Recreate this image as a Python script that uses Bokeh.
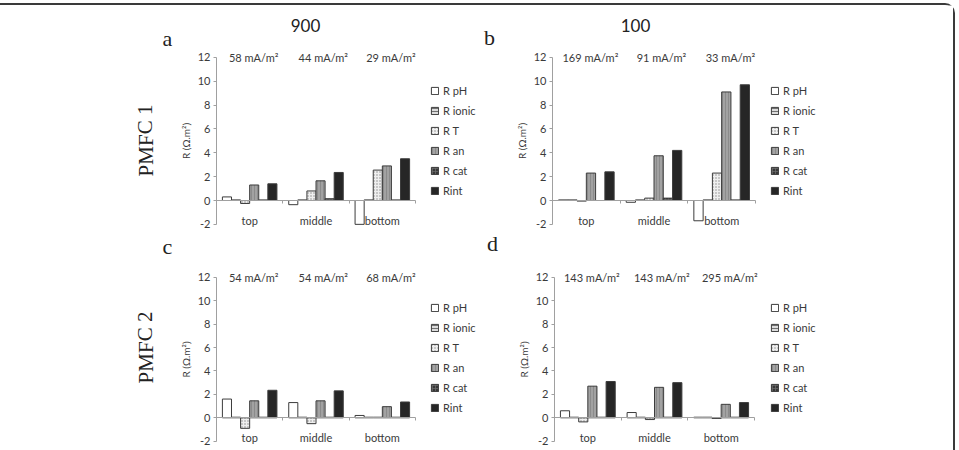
from bokeh.plotting import figure
from bokeh.models import (Range1d, Label, Legend, LegendItem, ColumnDataSource, FixedTicker)
from bokeh.transform import dodge
from bokeh.layouts import column, row
from bokeh.embed import file_html
from bokeh.resources import INLINE

# ---- data -------------------------------------------------------------
positions = ["top", "middle", "bottom"]
series = ["R pH", "R ionic", "R T", "R an", "R cat", "Rint"]
y_ticks = [-2, 0, 2, 4, 6, 8, 10, 12]

# PMFC 1, 900
a_pH = [0.3, -0.35, -2.0]
a_ionic = [0.05, 0.05, 0.05]
a_T = [-0.25, 0.8, 2.55]
a_an = [1.3, 1.65, 2.9]
a_cat = [0.05, 0.15, 0.05]
a_int = [1.4, 2.35, 3.5]
a_current = ["58 mA/m²", "44 mA/m²", "29 mA/m²"]

# PMFC 1, 100
b_pH = [0.05, -0.15, -1.7]
b_ionic = [0.05, 0.05, 0.05]
b_T = [-0.05, 0.2, 2.3]
b_an = [2.3, 3.75, 9.1]
b_cat = [0.0, 0.2, 0.05]
b_int = [2.4, 4.2, 9.7]
b_current = ["169 mA/m²", "91 mA/m²", "33 mA/m²"]

# PMFC 2, 900
c_pH = [1.6, 1.3, 0.2]
c_ionic = [0.05, 0.05, 0.05]
c_T = [-0.9, -0.5, 0.05]
c_an = [1.45, 1.45, 0.95]
c_cat = [0.05, 0.05, 0.05]
c_int = [2.35, 2.3, 1.35]
c_current = ["54 mA/m²", "54 mA/m²", "68 mA/m²"]

# PMFC 2, 100
d_pH = [0.6, 0.45, 0.05]
d_ionic = [0.05, 0.05, 0.05]
d_T = [-0.35, -0.15, -0.05]
d_an = [2.7, 2.6, 1.15]
d_cat = [0.05, 0.05, 0.05]
d_int = [3.1, 3.0, 1.3]
d_current = ["143 mA/m²", "143 mA/m²", "295 mA/m²"]

# ---- styling ------------------------------------------------------------
SANS = "Lato"
SERIF = "Liberation Serif"
TXT = "#3a3a3a"
EDGE = "#3c3c3c"
AXIS = "#a0a0a0"
ROW_H = 20  # legend row pitch

bar_styles = {
    "R pH": dict(fill_color="white"),
    "R ionic": dict(fill_color="#dcdcdc", hatch_pattern="horizontal_line",
                    hatch_color="#555555", hatch_scale=3, hatch_weight=0.8),
    "R T": dict(fill_color="#efefef", hatch_pattern="dot",
                hatch_color="#8c8c8c", hatch_scale=3, hatch_weight=0.8),
    "R an": dict(fill_color="#a2a2a2", hatch_pattern="vertical_line",
                 hatch_color="#858585", hatch_scale=3, hatch_weight=0.8),
    "R cat": dict(fill_color="#383838", hatch_pattern="cross",
                  hatch_color="#707070", hatch_scale=3, hatch_weight=0.7),
    "Rint": dict(fill_color="#262626"),
}
BAR_W = 0.137
current_x = [0.56, 1.61, 2.63]
centers = [i + 0.5 for i in range(len(positions))]
bounds_x = [float(i) for i in range(len(positions) + 1)]


def panel(values, currents, box, origin, plot_w, plot_h, legend_at):
    """box = (x0, y0, w, h) of the canvas on the page; origin = page pixel of
    (x=0, y=0); plot_w / plot_h = page pixels spanned by the 3 groups / by -2..12;
    legend_at = page pixel of the legend's top-left corner."""
    x0, y0, w, h = box
    ox, oy = origin
    ux = plot_w / len(positions)
    uy = plot_h / (y_ticks[-1] - y_ticks[0])
    xr = Range1d(-(ox - x0) / ux, (x0 + w - ox) / ux)
    yr = Range1d(-(y0 + h - oy) / uy, (oy - y0) / uy)
    p = figure(x_range=xr, y_range=yr, width=w, height=h,
               min_border=0, output_backend="svg", toolbar_location=None,
               outline_line_color=None, background_fill_color="white",
               border_fill_color="white")
    p.xgrid.visible = False
    p.ygrid.visible = False

    items = []
    n = len(series)
    for i, (name, vals) in enumerate(zip(series, values)):
        src = ColumnDataSource(dict(xc=centers, v=vals))
        r = p.vbar(x=dodge("xc", (i - (n - 1) / 2) * BAR_W), top="v", bottom=0,
                   width=BAR_W, source=src, line_color=EDGE, line_width=1,
                   **bar_styles[name])
        items.append(LegendItem(label=name, renderers=[r]))

    for x, t in zip(current_x, currents):
        p.add_layout(Label(x=x, y=y_ticks[-1], text=t, text_align="center",
                           text_baseline="middle", text_font=SANS,
                           text_font_size="11px", text_color=TXT))

    lx, ly = legend_at
    legend_bottom = ly + ROW_H * len(series)
    legend = Legend(items=items, location=(lx - x0, y0 + h - legend_bottom),
                    orientation="vertical",
                    glyph_width=9, glyph_height=9, label_height=ROW_H, spacing=0,
                    padding=0, margin=0, label_standoff=4,
                    label_text_font=SANS, label_text_font_size="11px",
                    label_text_color=TXT, border_line_color=None,
                    background_fill_alpha=0)
    p.add_layout(legend)

    ya = p.yaxis[0]
    ya.fixed_location = 0
    ya.bounds = (y_ticks[0], y_ticks[-1])
    ya.ticker = FixedTicker(ticks=y_ticks)
    ya.major_label_overrides = {t: str(t) for t in y_ticks}
    ya.axis_label = "R (Ω.m²)"
    ya.axis_label_text_font = SANS
    ya.axis_label_text_font_size = "10px"
    ya.axis_label_text_font_style = "normal"
    ya.axis_label_text_color = TXT
    ya.axis_label_standoff = 3
    ya.major_label_text_font = SANS
    ya.major_label_text_font_size = "11px"
    ya.major_label_text_color = TXT
    ya.major_label_standoff = 3
    ya.axis_line_color = AXIS
    ya.major_tick_line_color = AXIS
    ya.major_tick_out = 3
    ya.major_tick_in = 0
    ya.minor_tick_line_color = None

    xa = p.xaxis[0]
    xa.fixed_location = 0
    xa.bounds = (bounds_x[0], bounds_x[-1])
    xa.ticker = FixedTicker(ticks=centers, minor_ticks=bounds_x)
    xa.major_label_overrides = {c: name for c, name in zip(centers, positions)}
    xa.axis_line_color = AXIS
    xa.major_tick_line_color = None
    xa.major_tick_out = 0
    xa.major_tick_in = 0
    xa.minor_tick_line_color = AXIS
    xa.minor_tick_out = 3
    xa.minor_tick_in = 0
    xa.major_label_standoff = 10
    xa.major_label_text_font = SANS
    xa.major_label_text_font_size = "11px"
    xa.major_label_text_color = TXT
    return p, box


def note(panel_box, px, py, text, size, font, angle=0.0):
    p, (x0, y0, w, h) = panel_box
    p.add_layout(Label(x=px - x0, y=y0 + h - py, x_units="screen", y_units="screen",
                       text=text, text_align="center", text_baseline="middle",
                       text_font=font, text_font_size=size, text_color="#222222",
                       angle=angle))


pa = panel([a_pH, a_ionic, a_T, a_an, a_cat, a_int], a_current,
           (0, 5, 480, 225), (216, 200), 199, 167, (430, 80))
pb = panel([b_pH, b_ionic, b_T, b_an, b_cat, b_int], b_current,
           (480, 5, 473, 225), (552, 200), 203, 167, (770, 80))
pc = panel([c_pH, c_ionic, c_T, c_an, c_cat, c_int], c_current,
           (0, 230, 480, 220), (216, 417.3), 199, 164, (430, 297))
pd = panel([d_pH, d_ionic, d_T, d_an, d_cat, d_int], d_current,
           (480, 230, 473, 220), (554, 417.3), 200, 164, (770, 297))

note(pa, 305, 25, "900", "17px", SANS)
note(pb, 635, 25, "100", "17px", SANS)
note(pa, 167, 38, "a", "22px", SERIF)
note(pb, 489, 37, "b", "22px", SERIF)
note(pc, 167, 246, "c", "22px", SERIF)
note(pd, 492, 243, "d", "22px", SERIF)
note(pa, 145, 140, "PMFC 1", "21px", SERIF, angle=1.5708)
note(pc, 145, 347, "PMFC 2", "21px", SERIF, angle=1.5708)

layout = column(row(pa[0], pb[0]), row(pc[0], pd[0]),
                styles={"margin-top": "3px", "border-top": "2px solid #3a3a3a",
                        "border-right": "2px solid #3a3a3a",
                        "border-top-right-radius": "10px"})

open("out.html", "w").write(file_html(layout, INLINE))
